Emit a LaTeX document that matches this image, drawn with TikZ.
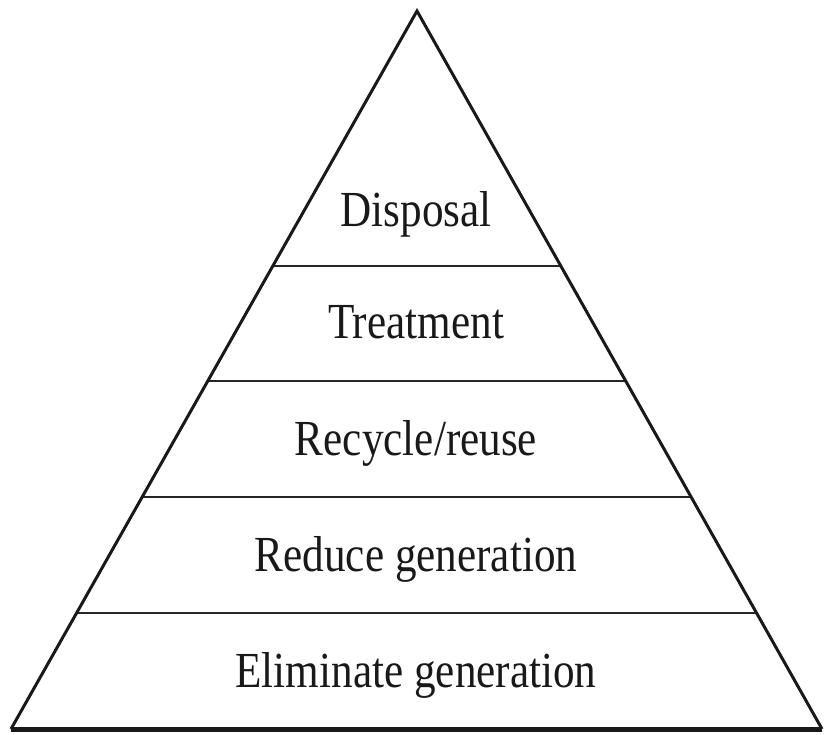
\documentclass[tikz,border=0pt]{standalone}
\usepackage{fontspec}
\setmainfont{Liberation Serif}[FakeStretch=0.855]
\usetikzlibrary{calc}
\begin{document}
\begin{tikzpicture}[x=1pt,y=-1pt,
  side/.style={line width=3pt,line join=miter,color=black!90},
  basel/.style={line width=5pt,color=black!90},
  tier/.style={line width=2pt,color=black!85},
  lab/.style={anchor=base,inner sep=0pt,font=\fontsize{50.5}{60}\selectfont,text=black!90}]
\useasboundingbox (0,0) rectangle (825,735);
\coordinate (apex) at (417,11);
\coordinate (bl) at (11,729);
\coordinate (br) at (822,729);
\foreach \n/\t in {a/0.3552,b/0.5153,c/0.6769,d/0.8384}{
  \coordinate (l\n) at ($(apex)!\t!(bl)$);
  \coordinate (r\n) at ($(apex)!\t!(br)$);
}
\draw[tier] (la) -- (ra);
\draw[tier] (lb) -- (rb);
\draw[tier] (lc) -- (rc);
\draw[tier] (ld) -- (rd);
\draw[side] (bl) -- (apex) -- (br);
\draw[basel] (bl) -- (br);
\node[lab] (disp) at (416,227) {Disposal};
\node[lab] (treat) at (416,339) {Treatment};
\node[lab] (recyc) at (416,455) {Recycle/reuse};
\node[lab] (reduce) at (416,571) {Reduce generation};
\node[lab] (elim) at (416,687) {Eliminate generation};
\end{tikzpicture}
\end{document}
